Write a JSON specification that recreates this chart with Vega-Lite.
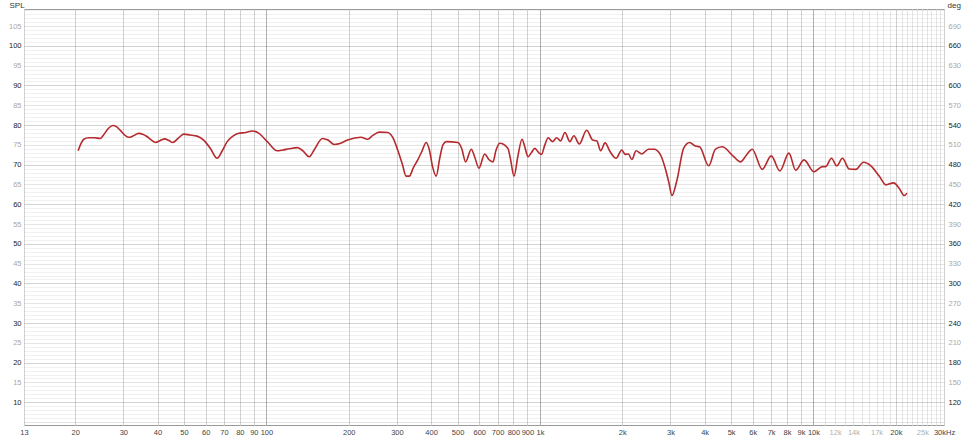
{
"$schema": "https://vega.github.io/schema/vega-lite/v6.json",
"width": 920, "height": 416,
"autosize": "none",
"padding": {"left": 24, "top": 9, "right": 31, "bottom": 14},
"background": "white",
"config": {
  "view": {"stroke": "#9a9a9a", "strokeWidth": 1},
  "axis": {"labelFont": "Liberation Sans", "labelFontSize": 7.5, "titleFont": "Liberation Sans", "titleFontSize": 8, "titleFontWeight": "normal", "ticks": false, "domain": false}
},
"data": {"values": [
{"f":20.5,"spl":73.5},{"f":21.0,"spl":75.3},{"f":21.5,"spl":76.4},{"f":22.4,"spl":76.8},{"f":23.5,"spl":76.8},{"f":24.7,"spl":76.6},{"f":25.4,"spl":77.5},{"f":26.5,"spl":79.2},{"f":27.45,"spl":79.9},{"f":28.3,"spl":79.6},{"f":29.2,"spl":78.7},{"f":30.2,"spl":77.6},{"f":31.35,"spl":76.9},{"f":32.5,"spl":77.2},{"f":34.1,"spl":77.9},{"f":35.3,"spl":77.7},{"f":36.6,"spl":77.1},{"f":38.0,"spl":76.2},{"f":39.3,"spl":75.6},{"f":41.0,"spl":76.1},{"f":42.5,"spl":76.5},{"f":44.0,"spl":76.1},{"f":45.5,"spl":75.6},{"f":47.5,"spl":76.6},{"f":49.9,"spl":77.7},{"f":52.5,"spl":77.5},{"f":55.8,"spl":77.2},{"f":59.0,"spl":76.2},{"f":62.5,"spl":74.0},{"f":66.1,"spl":71.6},{"f":69.0,"spl":73.5},{"f":71.9,"spl":75.8},{"f":75.5,"spl":77.2},{"f":79.3,"spl":77.9},{"f":84,"spl":78.1},{"f":88.8,"spl":78.5},{"f":94,"spl":77.9},{"f":100.8,"spl":75.8},{"f":109.6,"spl":73.5},{"f":115,"spl":73.7},{"f":121,"spl":74.0},{"f":129.8,"spl":74.3},{"f":136,"spl":73.5},{"f":143.3,"spl":72.0},{"f":150,"spl":73.9},{"f":160.3,"spl":76.6},{"f":168,"spl":76.2},{"f":177,"spl":75.1},{"f":187,"spl":75.4},{"f":198,"spl":76.2},{"f":221.7,"spl":76.9},{"f":234.4,"spl":76.4},{"f":245,"spl":77.4},{"f":259,"spl":78.2},{"f":277.6,"spl":78.1},{"f":290,"spl":76.8},{"f":302,"spl":73.7},{"f":315,"spl":69.8},{"f":324,"spl":67.1},{"f":333,"spl":67.1},{"f":345,"spl":69.3},{"f":357.6,"spl":71.2},{"f":370,"spl":73.3},{"f":384,"spl":75.6},{"f":395,"spl":73.5},{"f":405,"spl":69.5},{"f":417.7,"spl":67.1},{"f":430,"spl":71.5},{"f":442,"spl":75.0},{"f":454.6,"spl":75.8},{"f":501,"spl":75.6},{"f":518,"spl":74.0},{"f":535,"spl":70.7},{"f":561,"spl":73.9},{"f":577,"spl":72.0},{"f":598.7,"spl":69.1},{"f":628,"spl":72.7},{"f":650,"spl":71.3},{"f":673.7,"spl":70.7},{"f":690,"spl":73.5},{"f":713,"spl":75.4},{"f":764,"spl":74.1},{"f":780,"spl":71.5},{"f":804,"spl":67.1},{"f":830,"spl":72.0},{"f":860,"spl":76.4},{"f":880,"spl":74.5},{"f":905,"spl":72.0},{"f":930,"spl":73.0},{"f":958,"spl":74.1},{"f":993,"spl":72.9},{"f":1014,"spl":72.6},{"f":1040,"spl":74.8},{"f":1072,"spl":76.8},{"f":1112,"spl":75.8},{"f":1151,"spl":76.8},{"f":1190,"spl":76.0},{"f":1234,"spl":78.1},{"f":1287,"spl":75.8},{"f":1331,"spl":77.3},{"f":1392,"spl":75.2},{"f":1482,"spl":78.7},{"f":1559,"spl":76.2},{"f":1613,"spl":76.0},{"f":1668,"spl":73.5},{"f":1730,"spl":75.5},{"f":1804,"spl":73.3},{"f":1898,"spl":71.6},{"f":1992,"spl":73.7},{"f":2048,"spl":72.6},{"f":2106,"spl":72.7},{"f":2167,"spl":71.3},{"f":2247,"spl":73.5},{"f":2358,"spl":72.7},{"f":2493,"spl":73.9},{"f":2616,"spl":73.9},{"f":2753,"spl":72.6},{"f":2871,"spl":69.1},{"f":2960,"spl":65.5},{"f":3038,"spl":62.2},{"f":3169,"spl":66.1},{"f":3351,"spl":74.1},{"f":3525,"spl":75.6},{"f":3698,"spl":74.7},{"f":3835,"spl":74.5},{"f":4139,"spl":69.7},{"f":4380,"spl":73.9},{"f":4635,"spl":74.5},{"f":5111,"spl":72.0},{"f":5409,"spl":70.7},{"f":5700,"spl":72.5},{"f":5970,"spl":73.9},{"f":6495,"spl":68.8},{"f":7008,"spl":72.2},{"f":7539,"spl":68.4},{"f":8133,"spl":72.9},{"f":8606,"spl":68.6},{"f":9231,"spl":71.2},{"f":10044,"spl":68.2},{"f":10783,"spl":69.5},{"f":11086,"spl":69.5},{"f":11634,"spl":71.6},{"f":12166,"spl":69.7},{"f":12764,"spl":71.6},{"f":13496,"spl":68.9},{"f":14284,"spl":68.8},{"f":15241,"spl":70.6},{"f":16212,"spl":69.7},{"f":17386,"spl":67.1},{"f":18398,"spl":64.9},{"f":19634,"spl":65.4},{"f":20588,"spl":64.0},{"f":21475,"spl":62.2},{"f":21970,"spl":62.8}
]},
"layer": [
  {
    "mark": {"type": "line", "interpolate": "monotone", "color": "#b52a2e", "strokeWidth": 1.6, "clip": true},
    "encoding": {
      "x": {"field": "f", "type": "quantitative",
        "scale": {"type": "log", "domain": [13, 30000], "nice": false},
        "axis": {
          "title": null, "grid": true, "labelPadding": 3, "labelFlush": false, "labelOverlap": false,
          "values": [13,20,30,40,50,60,70,80,90,100,200,300,400,500,600,700,800,900,1000,2000,3000,4000,5000,6000,7000,8000,9000,10000,11000,12000,13000,14000,15000,16000,17000,18000,19000,20000,21000,22000,23000,24000,25000,26000,27000,28000,29000,30000],
          "labelExpr": "datum.value < 11000 ? (datum.value < 1000 ? datum.value + '' : datum.value/1000 + 'k') : (indexof([12000,14000,17000,20000,25000], datum.value) >= 0 ? datum.value/1000 + 'k' : (datum.value == 30000 ? '30kHz' : ''))",
          "labelColor": {"condition": {"test": "indexof([12000,14000,17000,25000], datum.value) >= 0", "value": "#b0b0b0"}, "value": "#444444"},
          "gridColor": {"condition": [{"test": "datum.value==100 || datum.value==1000 || datum.value==10000", "value": "#b0b0b0"}, {"test": "datum.value > 10000 && datum.value % 10000 != 0", "value": "#e6e6e6"}], "value": "#d2d2d2"}
        }
      },
      "y": {"field": "spl", "type": "quantitative",
        "scale": {"domain": [4.25, 109.3], "nice": false, "zero": false},
        "axis": {
          "orient": "left", "grid": true, "labelPadding": 3,
          "values": [5,6,7,8,9,10,11,12,13,14,15,16,17,18,19,20,21,22,23,24,25,26,27,28,29,30,31,32,33,34,35,36,37,38,39,40,41,42,43,44,45,46,47,48,49,50,51,52,53,54,55,56,57,58,59,60,61,62,63,64,65,66,67,68,69,70,71,72,73,74,75,76,77,78,79,80,81,82,83,84,85,86,87,88,89,90,91,92,93,94,95,96,97,98,99,100,101,102,103,104,105,106,107,108,109],
          "labelExpr": "(datum.value % 5 == 0 && datum.value >= 10) ? datum.label : ''",
          "labelColor": {"condition": {"test": "datum.value % 10 == 0", "value": "#222222"}, "value": "#a8a8a8"},
          "gridColor": "#000000",
          "gridOpacity": {"condition": [{"test": "datum.value % 10 == 0", "value": 0.17}, {"test": "datum.value % 5 == 0", "value": 0.1}], "value": 0.055},
          "title": "SPL", "titleAngle": 0, "titleX": -15, "titleY": -4, "titleAlign": "left", "titleBaseline": "middle", "titleColor": "#333333"
        }
      }
    }
  },
  {
    "mark": {"type": "line", "opacity": 0},
    "encoding": {
      "x": {"field": "f", "type": "quantitative"},
      "y": {"field": "spl", "type": "quantitative",
        "axis": {
          "orient": "right", "grid": false, "labelPadding": 4,
          "values": [10,15,20,25,30,35,40,45,50,55,60,65,70,75,80,85,90,95,100,105],
          "labelExpr": "(datum.value * 6 + 60) + ''",
          "labelColor": {"condition": {"test": "datum.value % 10 == 0", "value": "#222222"}, "value": "#a8a8a8"},
          "title": "deg", "titleAngle": 0, "titleX": 3, "titleY": -4, "titleAlign": "left", "titleBaseline": "middle", "titleColor": "#333333"
        }
      }
    }
  }
],
"resolve": {"axis": {"y": "independent"}}
}
